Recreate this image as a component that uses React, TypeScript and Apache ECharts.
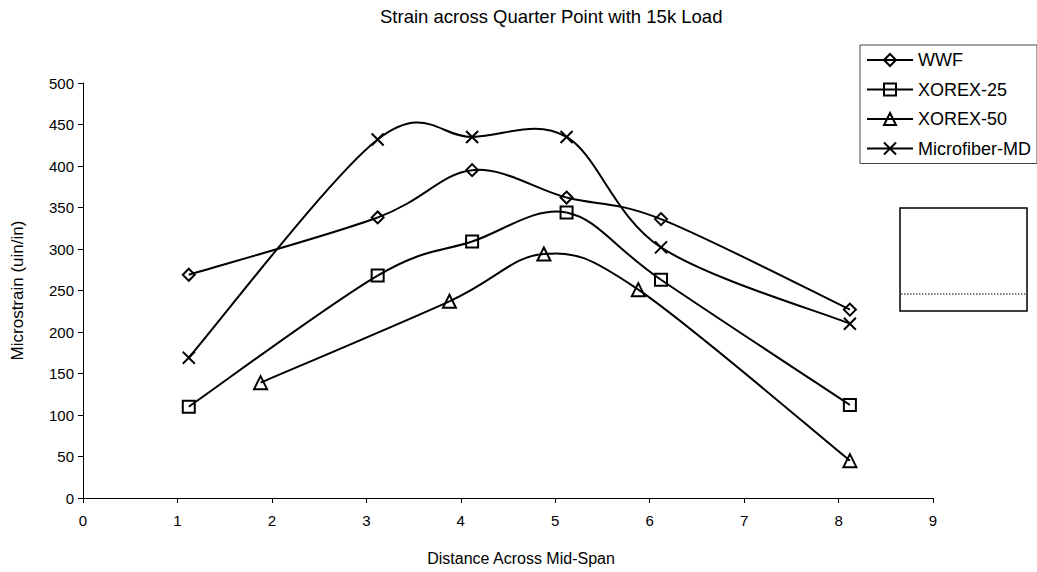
import React, { useEffect, useRef } from "react";
import * as echarts from "echarts";

const chartTitle = "Strain across Quarter Point with 15k Load";
const xAxisTitle = "Distance Across Mid-Span";
const yAxisTitle = "Microstrain (uin/in)";

const seriesNames = ["WWF", "XOREX-25", "XOREX-50", "Microfiber-MD"];
const xMain = [1.12, 3.12, 4.12, 5.12, 6.12, 8.12];
const xShifted = [1.88, 3.88, 4.88, 5.88, 8.12];
const wwfValues = [269, 338, 395, 362, 336, 227];
const xorex25Values = [110, 268, 309, 344, 263, 112];
const xorex50Values = [139, 237, 294, 251, 45];
const microfiberValues = [169, 432, 435, 435, 302, 210];

const FONT = "'Liberation Sans', Arial, Helvetica, sans-serif";

type Pt = [number, number];

function toPoints(xs: number[], ys: number[]): Pt[] {
  return xs.map((x, i) => [x, ys[i]] as Pt);
}

function markerSeries(name: string, pts: Pt[], symbol: string, size: number) {
  return {
    type: "line",
    name,
    data: pts,
    symbol,
    symbolSize: size,
    showSymbol: true,
    z: 3,
    lineStyle: { opacity: 0, width: 0, color: "#000" },
    itemStyle: { color: "rgba(0,0,0,0)", borderColor: "#000", borderWidth: 2 },
    emphasis: { disabled: true },
  };
}

function curveSeries(name: string, pts: Pt[]) {
  return {
    type: "custom",
    name: name + " curve",
    data: pts,
    encode: { x: 0, y: 1 },
    z: 2,
    silent: true,
    renderItem: (params: any, api: any) => {
      const i = params.dataIndex;
      if (i >= pts.length - 1) return { type: "group", children: [] };
      const c = (k: number) => api.coord(pts[Math.max(0, Math.min(pts.length - 1, k))]);
      const p0 = c(i - 1);
      const p1 = c(i);
      const p2 = c(i + 1);
      const p3 = c(i + 2);
      return {
        type: "bezierCurve",
        shape: {
          x1: p1[0],
          y1: p1[1],
          x2: p2[0],
          y2: p2[1],
          cpx1: p1[0] + (p2[0] - p0[0]) / 6,
          cpy1: p1[1] + (p2[1] - p0[1]) / 6,
          cpx2: p2[0] - (p3[0] - p1[0]) / 6,
          cpy2: p2[1] - (p3[1] - p1[1]) / 6,
        },
        style: { stroke: "#000", lineWidth: 2, fill: "none" },
      };
    },
  };
}

export default function App() {
  const ref = useRef<HTMLDivElement>(null);

  useEffect(() => {
    if (!ref.current) return;
    const chart = echarts.init(ref.current, undefined, { renderer: "svg" });

    const wwf = toPoints(xMain, wwfValues);
    const x25 = toPoints(xMain, xorex25Values);
    const x50 = toPoints(xShifted, xorex50Values);
    const mf = toPoints(xMain, microfiberValues);

    const crossPath = "path://M0,0L10,10M10,0L0,10";

    chart.setOption({
      animation: false,
      backgroundColor: "#fff",
      textStyle: { fontFamily: FONT, color: "#000" },
      title: {
        text: chartTitle,
        left: 375,
        top: 2,
        textStyle: { fontFamily: FONT, fontSize: 18.5, fontWeight: "normal", color: "#000" },
      },
      legend: {
        data: seriesNames,
        orient: "vertical",
        left: 860,
        top: 45,
        padding: [6, 6, 6, 6],
        itemWidth: 46,
        itemHeight: 15,
        itemGap: 11.5,
        borderColor: "#444",
        borderWidth: 1,
        selectedMode: false,
        textStyle: { fontFamily: FONT, fontSize: 18, color: "#000" },
        lineStyle: { color: "#000", width: 2, opacity: 1, type: "solid" },
      },
      grid: { left: 83, right: 104, top: 83, bottom: 74, containLabel: false },
      xAxis: {
        type: "value",
        min: 0,
        max: 9,
        interval: 1,
        name: xAxisTitle,
        nameLocation: "middle",
        nameGap: 52,
        nameTextStyle: { fontFamily: FONT, fontSize: 16, color: "#000", padding: [0, 0, 0, 26] },
        axisLine: { onZero: false, lineStyle: { color: "#000", width: 1 } },
        axisTick: { show: true, inside: false, length: 5, lineStyle: { color: "#000" } },
        axisLabel: { fontFamily: FONT, fontSize: 15, color: "#000", margin: 15 },
        splitLine: { show: false },
      },
      yAxis: {
        type: "value",
        min: 0,
        max: 500,
        interval: 50,
        name: yAxisTitle,
        nameLocation: "middle",
        nameGap: 57,
        nameTextStyle: { fontFamily: FONT, fontSize: 17, color: "#000" },
        axisLine: { show: true, lineStyle: { color: "#000", width: 1 } },
        axisTick: { show: true, inside: false, length: 5, lineStyle: { color: "#000" } },
        axisLabel: { fontFamily: FONT, fontSize: 15, color: "#000", margin: 9 },
        splitLine: { show: false },
      },
      graphic: [
        {
          type: "rect",
          shape: { x: 900, y: 208, width: 127, height: 103 },
          style: { fill: "none", stroke: "#000", lineWidth: 1.5 },
        },
        {
          type: "line",
          shape: { x1: 901, y1: 294, x2: 1026, y2: 294 },
          style: { stroke: "#000", lineWidth: 1, lineDash: [1.5, 1.5] },
        },
      ],
      series: [
        curveSeries(seriesNames[0], wwf),
        curveSeries(seriesNames[1], x25),
        curveSeries(seriesNames[2], x50),
        curveSeries(seriesNames[3], mf),
        markerSeries(seriesNames[0], wwf, "diamond", 12),
        markerSeries(seriesNames[1], x25, "rect", 12),
        markerSeries(seriesNames[2], x50, "triangle", 13),
        markerSeries(seriesNames[3], mf, crossPath, 12),
      ],
    });

    return () => chart.dispose();
  }, []);

  return (
    <div
      ref={ref}
      style={{ position: "fixed", left: 0, top: 0, width: 1037, height: 572, background: "#fff" }}
    />
  );
}
